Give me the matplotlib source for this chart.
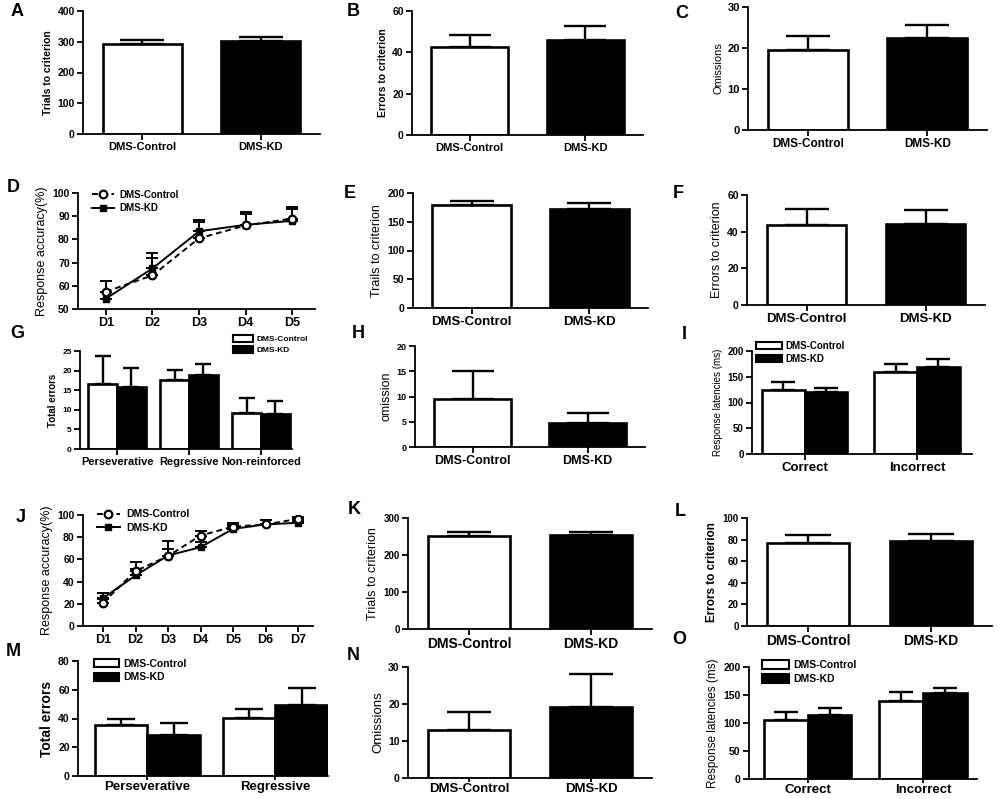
import numpy as np
import matplotlib
matplotlib.use("Agg")
import matplotlib.pyplot as plt
from matplotlib.patches import Patch
from matplotlib.lines import Line2D

plt.rcParams["font.family"] = ["Liberation Sans", "DejaVu Sans"]
plt.rcParams["font.weight"] = "bold"
plt.rcParams["axes.linewidth"] = 1.3

W, H = 1000, 799
GROUPS = ["DMS-Control", "DMS-KD"]
NARROW = ["Liberation Sans Narrow", "Liberation Sans", "DejaVu Sans"]

# ── Two-bar panels: mean and SEM (Control, KD) ───────────────────────────────
A_MEAN, A_SEM = [292, 302], [15, 13]
B_MEAN, B_SEM = [42.6, 46.0], [5.8, 6.7]
C_MEAN, C_SEM = [19.6, 22.5], [3.3, 3.0]
E_MEAN, E_SEM = [179, 173], [7.6, 10]
F_MEAN, F_SEM = [43.6, 44.0], [8.8, 7.8]
H_MEAN, H_SEM = [9.6, 4.8], [5.4, 2.0]
K_MEAN, K_SEM = [251.6, 255], [11.4, 6.6]
L_MEAN, L_SEM = [77.3, 78.6], [6.5, 6.8]
N_MEAN, N_SEM = [13.0, 19.1], [4.9, 9.1]

# ── Learning curves ──────────────────────────────────────────────────────────
D_DAYS = ["D1", "D2", "D3", "D4", "D5"]
D_CTRL, D_CTRL_SEM = [57.5, 64.5, 80.5, 86.0, 89.0], [4.5, 7.5, 7.0, 5.0, 4.0]
D_KD, D_KD_SEM = [54.5, 67.5, 83.5, 86.3, 88.0], [3.0, 6.5, 5.0, 5.5, 6.0]

J_DAYS = ["D1", "D2", "D3", "D4", "D5", "D6", "D7"]
J_CTRL, J_CTRL_SEM = [21, 49.5, 63, 81.5, 89.5, 91.5, 96.5], [3, 8, 14, 4.5, 3.5, 4, 1.5]
J_KD, J_KD_SEM = [25, 45.5, 63.5, 71, 87.5, 91.5, 93], [5, 6, 6, 5, 3.5, 4, 2]

# ── Grouped-bar panels ───────────────────────────────────────────────────────
G_CATS = ["Perseverative", "Regressive", "Non-reinforced"]
G_CTRL, G_CTRL_SEM = [16.7, 17.5, 9.3], [6.9, 2.6, 3.7]
G_KD, G_KD_SEM = [15.8, 18.9, 9.0], [4.9, 2.7, 3.3]

I_CATS = ["Correct", "Incorrect"]
I_CTRL, I_CTRL_SEM = [124, 158.8], [15, 16.8]
I_KD, I_KD_SEM = [119.6, 168.5], [9, 16.7]

M_CATS = ["Perseverative", "Regressive"]
M_CTRL, M_CTRL_SEM = [35.2, 40.4], [4.5, 6.1]
M_KD, M_KD_SEM = [28.4, 49.4], [8.6, 11.8]

O_CATS = ["Correct", "Incorrect"]
O_CTRL, O_CTRL_SEM = [105.5, 139.7], [13.3, 15.1]
O_KD, O_KD_SEM = [114.8, 153.0], [11.6, 8.7]

fig = plt.figure(figsize=(W / 100, H / 100), dpi=100)


def make_ax(l, b, r, t):
    return fig.add_axes([l / W, 1 - b / H, (r - l) / W, (b - t) / H])


def style(ax, yticks, ylabel, ylab_fs, ytick_fs, xtick_fs, ylab_bold=True, xpad=2, xlen=4):
    for s in ("top", "right"):
        ax.spines[s].set_visible(False)
    ax.set_ylim(yticks[0], yticks[-1])
    ax.set_yticks(yticks)
    ax.tick_params(axis="y", labelsize=ytick_fs, width=1.3, length=4, pad=2)
    ax.tick_params(axis="x", labelsize=xtick_fs, width=1.3, length=xlen, pad=xpad)
    ax.set_ylabel(ylabel, fontsize=ylab_fs, family=NARROW,
                  fontweight="bold" if ylab_bold else "normal", labelpad=3)


def capsize_for(ax, width, frac=0.55):
    pos = ax.get_position()
    x0, x1 = ax.get_xlim()
    px = width * pos.width * W / (x1 - x0)
    return frac * px / 2 * 0.72


def bars(ax, x, mean, sem, width, color):
    x = np.asarray(x, dtype=float)
    ax.bar(x, mean, width=width, color=color, edgecolor="black", linewidth=1.9, zorder=2)
    ax.errorbar(x, mean, yerr=[np.zeros(len(x)), sem], fmt="none", ecolor="black",
                elinewidth=1.7, capthick=1.7, capsize=capsize_for(ax, width), zorder=1)


def two_bar(ax, mean, sem):
    ax.set_xlim(-0.5, 1.5)
    x = np.arange(2)
    bars(ax, x, mean, sem, 0.67, ["white", "black"])
    ax.set_xticks(x)
    ax.set_xticklabels(GROUPS)


def grouped(ax, cats, ctrl, ctrl_sem, kd, kd_sem, width, xlim):
    ax.set_xlim(*xlim)
    x = np.arange(len(cats))
    bars(ax, x - width / 2, ctrl, ctrl_sem, width, "white")
    bars(ax, x + width / 2, kd, kd_sem, width, "black")
    ax.set_xticks(x)
    ax.set_xticklabels(cats)


def bar_legend(ax, anchor, fs, hl, hh):
    handles = [Patch(facecolor="white", edgecolor="black", linewidth=1.5, label=GROUPS[0]),
               Patch(facecolor="black", edgecolor="black", linewidth=1.5, label=GROUPS[1])]
    ax.legend(handles=handles, loc="upper left", bbox_to_anchor=anchor, frameon=False,
              fontsize=fs, handlelength=hl, handleheight=hh, handletextpad=0.4,
              labelspacing=0.35, borderaxespad=0, borderpad=0)


def curve(ax, days, ctrl, ctrl_sem, kd, kd_sem, xlim, ms):
    ax.set_xlim(*xlim)
    x = np.arange(1, len(days) + 1)
    cs = 4.5
    ax.errorbar(x, ctrl, yerr=[np.zeros(len(x)), ctrl_sem], fmt="none", ecolor="black",
                elinewidth=1.4, capthick=1.4, capsize=cs, zorder=1)
    ax.errorbar(x, kd, yerr=[np.zeros(len(x)), kd_sem], fmt="none", ecolor="black",
                elinewidth=1.4, capthick=1.4, capsize=cs, zorder=1)
    ax.plot(x, ctrl, ls=(0, (3, 2)), color="black", lw=1.4, marker="o", ms=ms,
            mfc="white", mec="black", mew=1.6, zorder=3)
    ax.plot(x, kd, ls="-", color="black", lw=1.4, marker="s", ms=ms - 0.5,
            mfc="black", mec="black", zorder=2)
    ax.set_xticks(x)
    ax.set_xticklabels(days)
    return [Line2D([], [], ls=(0, (3, 2)), color="black", lw=1.4, marker="o", ms=ms,
                   mfc="white", mec="black", mew=1.6, label=GROUPS[0]),
            Line2D([], [], ls="-", color="black", lw=1.4, marker="s", ms=ms - 0.5,
                   mfc="black", mec="black", label=GROUPS[1])]


# ── Row 1 ────────────────────────────────────────────────────────────────────
ax = make_ax(83, 134, 320, 11)
two_bar(ax, A_MEAN, A_SEM)
style(ax, [0, 100, 200, 300, 400], "Trials to criterion", 7.5, 7.5, 8)

ax = make_ax(412, 135, 643, 11)
two_bar(ax, B_MEAN, B_SEM)
style(ax, [0, 20, 40, 60], "Errors to criterion", 7.5, 7.5, 8)

ax = make_ax(748, 130, 987, 7)
two_bar(ax, C_MEAN, C_SEM)
style(ax, [0, 10, 20, 30], "Omissions", 8, 8, 8.5, ylab_bold=False)

# ── Row 2 ────────────────────────────────────────────────────────────────────
ax = make_ax(78, 309, 315, 193)
h = curve(ax, D_DAYS, D_CTRL, D_CTRL_SEM, D_KD, D_KD_SEM, (0.4, 5.49), 5.5)
style(ax, [50, 60, 70, 80, 90, 100], "Response accuracy(%)", 9, 7.5, 9, ylab_bold=False)
ax.legend(handles=h, loc="upper left", bbox_to_anchor=(0.06, 1.03), frameon=False,
          fontsize=7, handlelength=2.2, handletextpad=0.6, labelspacing=0.4,
          borderaxespad=0, borderpad=0)

ax = make_ax(413, 308, 648, 193)
two_bar(ax, E_MEAN, E_SEM)
style(ax, [0, 50, 100, 150, 200], "Trails to criterion", 9, 7.5, 9.5, ylab_bold=False)

ax = make_ax(747, 305, 985, 195)
two_bar(ax, F_MEAN, F_SEM)
style(ax, [0, 20, 40, 60], "Errors to criterion", 9, 7.5, 9.5, ylab_bold=False)

# ── Row 3 ────────────────────────────────────────────────────────────────────
ax = make_ax(80, 449, 292, 351)
grouped(ax, G_CATS, G_CTRL, G_CTRL_SEM, G_KD, G_KD_SEM, 0.4, (-0.514, 2.43))
style(ax, [0, 5, 10, 15, 20, 25], "Total errors", 7, 6, 8)
bar_legend(ax, (0.72, 1.16), 6, 2.5, 0.8)

ax = make_ax(415, 447, 645, 346)
two_bar(ax, H_MEAN, H_SEM)
style(ax, [0, 5, 10, 15, 20], "omission", 9, 6.5, 9, ylab_bold=False)

ax = make_ax(752, 454, 972, 351)
grouped(ax, I_CATS, I_CTRL, I_CTRL_SEM, I_KD, I_KD_SEM, 0.38, (-0.47, 1.49))
style(ax, [0, 50, 100, 150, 200], "Response latencies (ms)", 7, 7, 9.5, ylab_bold=False)
bar_legend(ax, (0.02, 1.10), 7, 2.6, 0.8)

# ── Row 4 ────────────────────────────────────────────────────────────────────
ax = make_ax(83, 626, 313, 515)
h = curve(ax, J_DAYS, J_CTRL, J_CTRL_SEM, J_KD, J_KD_SEM, (0.385, 7.46), 5.5)
style(ax, [0, 20, 40, 60, 80, 100], "Response accuracy(%)", 9, 7.5, 9, ylab_bold=False)
ax.legend(handles=h, loc="upper left", bbox_to_anchor=(0.06, 1.05), frameon=False,
          fontsize=7.5, handlelength=2.2, handletextpad=0.6, labelspacing=0.3,
          borderaxespad=0, borderpad=0)

ax = make_ax(408, 629, 652, 518)
two_bar(ax, K_MEAN, K_SEM)
style(ax, [0, 100, 200, 300], "Trials to criterion", 9, 7, 10, ylab_bold=False)

ax = make_ax(747, 626, 992, 518)
two_bar(ax, L_MEAN, L_SEM)
style(ax, [0, 20, 40, 60, 80, 100], "Errors to criterion", 8.5, 7, 10)

# ── Row 5 ────────────────────────────────────────────────────────────────────
ax = make_ax(78, 776, 328, 661)
grouped(ax, M_CATS, M_CTRL, M_CTRL_SEM, M_KD, M_KD_SEM, 0.41, (-0.54, 1.41))
style(ax, [0, 20, 40, 60, 80], "Total errors", 10, 7.5, 9.5, xpad=0.5, xlen=3)
bar_legend(ax, (0.064, 1.02), 7.5, 2.4, 0.85)

ax = make_ax(408, 778, 652, 667)
two_bar(ax, N_MEAN, N_SEM)
style(ax, [0, 10, 20, 30], "Omissions", 9.5, 7.5, 9.5, ylab_bold=False, xpad=0.5, xlen=3)

ax = make_ax(749, 779, 977, 667)
grouped(ax, O_CATS, O_CTRL, O_CTRL_SEM, O_KD, O_KD_SEM, 0.38, (-0.51, 1.47))
style(ax, [0, 50, 100, 150, 200], "Response latencies (ms)", 8.5, 7.5, 9.5,
      ylab_bold=False, xpad=0.5, xlen=3)
bar_legend(ax, (0.057, 1.06), 7.5, 2.6, 0.9)

# ── Panel letters ────────────────────────────────────────────────────────────
LETTERS = {"A": (17, 11), "B": (353, 12), "C": (682, 13), "D": (13, 187),
           "E": (350, 193), "F": (678, 194), "G": (17, 333), "H": (358, 333),
           "I": (684, 335), "J": (21, 518), "K": (354, 509), "L": (680, 511),
           "M": (13, 651), "N": (353, 656), "O": (679, 640)}
for k, (x, y) in LETTERS.items():
    fig.text(x / W, 1 - y / H, k, fontsize=13, fontweight="bold", ha="center", va="center")

fig.savefig("out.png", dpi=100)
